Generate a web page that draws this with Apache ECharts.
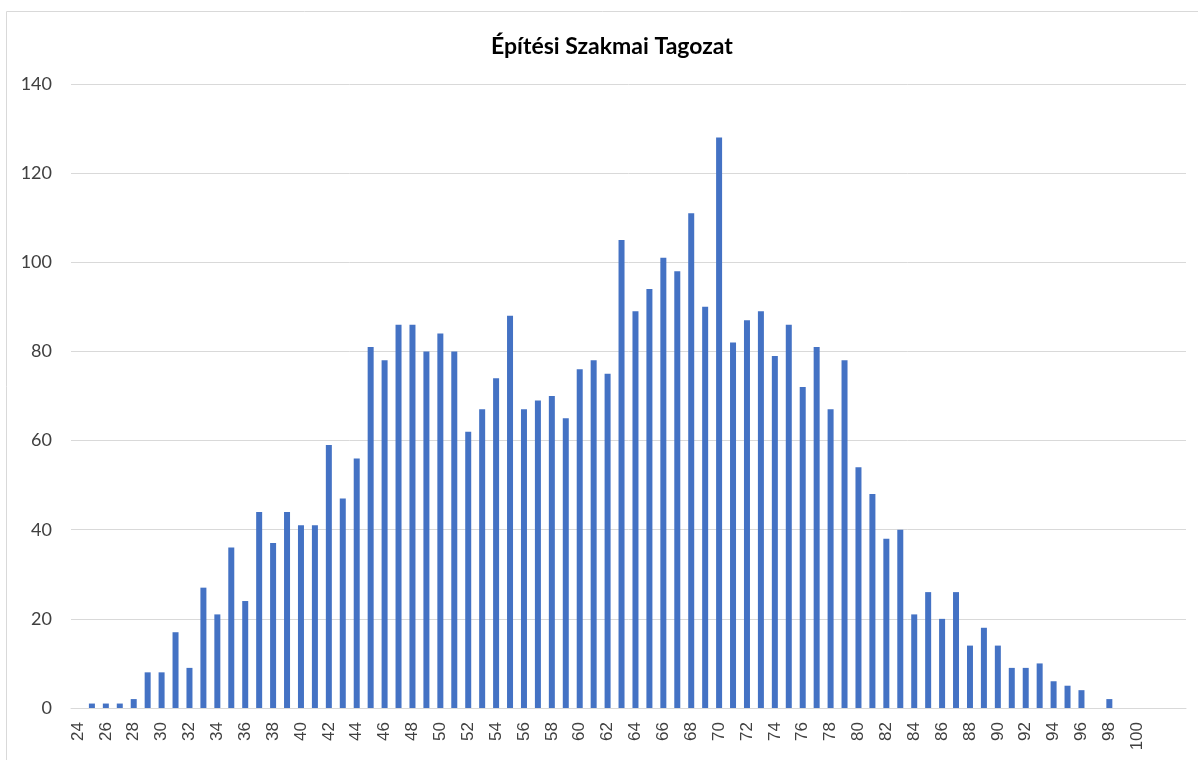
<!DOCTYPE html>
<html>

<head>
	<meta charset="UTF-8">
	<title>Építési Szakmai Tagozat</title>
	<script src="https://cdn.jsdelivr.net/npm/echarts@6/dist/echarts.min.js"></script>
	<style>
		html, body { margin: 0; padding: 0; background: #fff; }
	</style>
</head>

<body>
	<div id="chart1" style="width: 1198px;height: 760px;"></div>
</body>

</html>
<script type="text/javascript">
	// pontszámok (kategóriák), az utolsó három üres hely a tengely végén
	var categories = ['24', '25', '26', '27', '28', '29', '30', '31', '32', '33',
		'34', '35', '36', '37', '38', '39', '40', '41', '42', '43',
		'44', '45', '46', '47', '48', '49', '50', '51', '52', '53',
		'54', '55', '56', '57', '58', '59', '60', '61', '62', '63',
		'64', '65', '66', '67', '68', '69', '70', '71', '72', '73',
		'74', '75', '76', '77', '78', '79', '80', '81', '82', '83',
		'84', '85', '86', '87', '88', '89', '90', '91', '92', '93',
		'94', '95', '96', '97', '98', '99', '100', '', '', ''];

	// létszám pontszámonként
	var counts = [0, 1, 1, 1, 2, 8, 8, 17, 9, 27,
		21, 36, 24, 44, 37, 44, 41, 41, 59, 47,
		56, 81, 78, 86, 86, 80, 84, 80, 62, 67,
		74, 88, 67, 69, 70, 65, 76, 78, 75, 105,
		89, 94, 101, 98, 111, 90, 128, 82, 87, 89,
		79, 86, 72, 81, 67, 78, 54, 48, 38, 40,
		21, 26, 20, 26, 14, 18, 14, 9, 9, 10,
		6, 5, 4, 0, 2, 0, 0, 0, 0, 0];

	var yTicks = { min: 0, max: 140, step: 20 };

	var chart1 = echarts.init(document.getElementById("chart1"));
	var option = {
		animation: false,
		title: {
			text: 'Építési Szakmai Tagozat',
			left: 607,
			top: 30,
			textAlign: 'center',
			textStyle: {
				fontFamily: 'Lato',
				fontWeight: 'bold',
				fontSize: 23,
				color: '#000'
			}
		},
		graphic: [{
			type: 'rect',
			shape: { x: 6.5, y: 11.5, width: 1300, height: 900 },
			style: { fill: 'none', stroke: '#d9d9d9', lineWidth: 1 },
			silent: true
		}],
		grid: {
			left: 71,
			right: 12,
			top: 84,
			bottom: 52,
			containLabel: false
		},
		xAxis: {
			type: 'category',
			data: categories,
			axisLine: { lineStyle: { color: '#d9d9d9', width: 1 } },
			axisTick: { show: false },
			axisLabel: {
				interval: 1,
				rotate: 90,
				margin: 14,
				fontFamily: 'Liberation Sans',
				fontSize: 17,
				color: '#404040'
			}
		},
		yAxis: {
			type: 'value',
			min: yTicks.min,
			max: yTicks.max,
			interval: yTicks.step,
			axisLine: { show: false },
			axisTick: { show: false },
			splitLine: { lineStyle: { color: '#d9d9d9', width: 1 } },
			axisLabel: {
				margin: 19,
				fontFamily: 'Lato',
				fontSize: 18,
				color: '#404040'
			}
		},
		series: [{
			type: 'bar',
			data: counts,
			barWidth: 6,
			itemStyle: { color: '#4472c4' }
		}]
	};

	chart1.setOption(option);
</script>
